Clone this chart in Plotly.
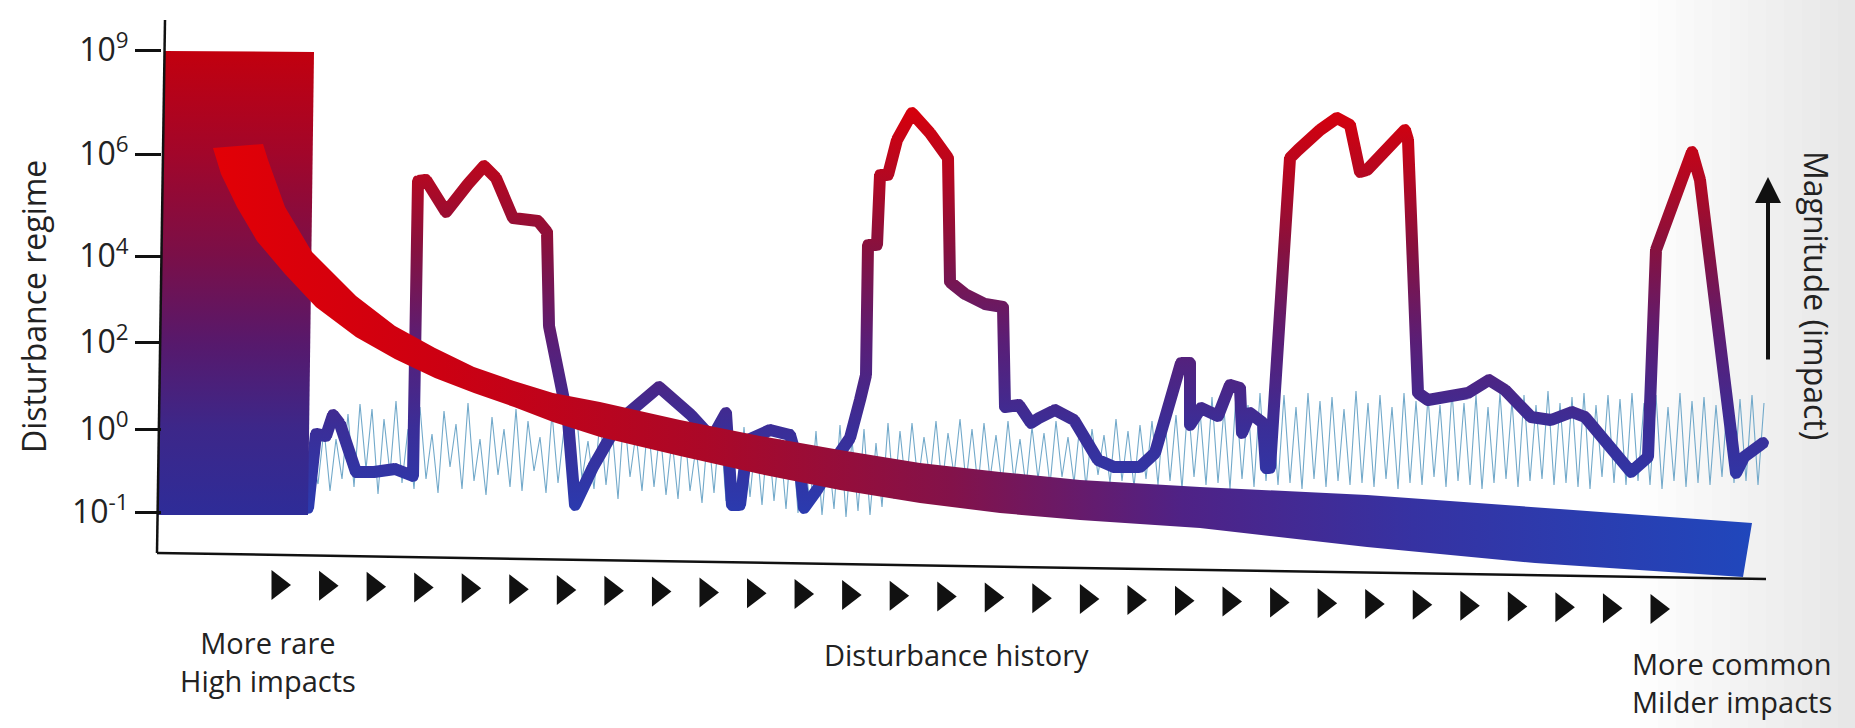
import numpy as np
import plotly.graph_objects as go

# units: t = time step along the disturbance history, level = height on the regime axis
TICK_LEVELS = [67, 150, 237, 323, 425, 529]
TICK_TEXT = ["10<sup>-1</sup>", "10<sup>0</sup>", "10<sup>2</sup>", "10<sup>4</sup>",
             "10<sup>6</sup>", "10<sup>9</sup>"]

# thick disturbance history line
HIST_T = [151, 159, 169, 176, 183, 199, 217, 238, 256, 261, 269, 289, 311, 327, 339, 356, 381, 390,
          392, 411, 418, 436, 463, 502, 534, 555, 569, 575, 583, 591, 613, 633, 643, 647, 660, 680,
          693, 703, 709, 711, 720, 723, 731, 740, 755, 773, 791, 793, 808, 828, 846, 848, 862, 874,
          882, 898, 917, 941, 957, 983, 998, 1024, 1033, 1033, 1044, 1061, 1073, 1083, 1085, 1093,
          1106, 1109, 1113, 1133, 1141, 1163, 1180, 1193, 1203, 1210, 1248, 1251, 1261, 1271, 1311,
          1332, 1348, 1374, 1394, 1415, 1428, 1474, 1491, 1499, 1535, 1543, 1579, 1587, 1606]
HIST_LEVEL = [71, 145, 143, 164, 155, 107, 107, 110, 103, 398, 399, 367, 395, 413, 401, 361, 358, 347,
              253, 159, 74, 112, 159, 192, 164, 141, 166, 74, 74, 139, 149, 144, 109, 71, 89, 122,
              141, 179, 204, 334, 334, 404, 404, 439, 466, 446, 421, 297, 285, 275, 272, 172, 174, 156,
              161, 169, 159, 119, 112, 112, 126, 216, 216, 154, 171, 163, 194, 191, 146, 166,
              156, 111, 111, 421, 429, 449, 461, 454, 407, 409, 449, 439, 186, 179, 186,
              199, 189, 162, 159, 167, 162, 107, 122, 329, 427, 399, 106, 122, 136]

# thin background fluctuation line (sampled every 6 time steps from t = 155)
NOISE_T0, NOISE_STEP = 155, 6
NOISE_LEVEL = [
    120, 95, 150, 88, 140, 100, 165, 92, 175, 110, 170, 85, 160, 105, 178, 96, 150, 90, 172, 100,
    145, 86, 168, 112, 155, 90, 176, 98, 140, 84, 162, 104, 150, 92, 170, 88, 158, 108, 142, 86,
    166, 96, 150, 82, 174, 100, 138, 90, 160, 94, 152, 80, 168, 102, 146, 88, 158, 92, 150, 84,
    140, 80, 158, 88, 132, 76, 150, 86, 160, 78, 136, 72, 152, 82, 144, 74, 148, 78, 140, 70,
    150, 66, 134, 72, 148, 64, 130, 70, 154, 62, 140, 68, 150, 64, 136, 72, 156, 80, 148, 90,
    156, 96, 142, 100, 158, 92, 146, 104, 160, 96, 150, 92, 156, 100, 144, 94, 158, 98, 140, 92,
    152, 100, 146, 94, 158, 102, 142, 96, 156, 92, 150, 104, 144, 96, 160, 98, 148, 92, 154, 100,
    158, 94, 172, 98, 164, 90, 178, 102, 168, 94, 182, 96, 170, 90, 184, 100, 174, 92, 186, 98,
    176, 94, 184, 96, 172, 90, 186, 100, 178, 92, 182, 98, 170, 94, 188, 96, 176, 92, 184, 100,
    172, 90, 186, 96, 178, 94, 182, 102, 174, 92, 188, 98, 176, 94, 184, 90, 172, 96, 186, 100,
    178, 92, 184, 98, 174, 100, 188, 94, 176, 96, 182, 92, 186, 90, 174, 102, 184, 96, 180, 94,
    186, 98, 176, 94, 184, 90, 172, 98, 186, 92, 178, 96, 182, 94, 174, 102, 188, 96, 180, 98,
    184, 94, 176]

# broad regime band (upper and lower edge)
BAND_TOP_T = [106, 111, 128, 155, 199, 238, 278, 317, 357, 396, 443, 523, 603, 683, 763, 843, 923,
              1043, 1210, 1378, 1595]
BAND_TOP_L = [435, 419, 372, 327, 283, 253, 231, 212, 198, 186, 177, 159, 143, 129, 116, 107, 99,
              92, 84, 72, 56]
BAND_BOT_T = [56, 64, 80, 100, 128, 159, 199, 238, 278, 317, 357, 396, 443, 523, 603, 683, 763,
              843, 923, 1043, 1210, 1378, 1586]
BAND_BOT_L = [431, 405, 372, 338, 305, 272, 242, 220, 201, 186, 172, 157, 142, 123, 105, 89, 76,
              66, 59, 51, 32, 16, 2]

# rare high impact block
RECT_T = [1, 8, 157, 151]
RECT_L = [64, 528, 527, 64]

N_ARROWS = 30

HIST_SCALE = [[0, '#2b3aae'], [0.2, '#3a2e98'], [0.42, '#5a1e76'], [0.65, '#86113f'],
              [0.83, '#b30822'], [1, '#d6000c']]
RECT_SCALE = [[0, '#2e2c98'], [0.19, '#3d2789'], [0.37, '#57196c'], [0.56, '#7a0f48'],
              [0.78, '#a2062a'], [1, '#c2000e']]
BAND_SCALE = [[0, '#e20006'], [0.15, '#cc0012'], [0.32, '#ab0828'], [0.48, '#83124a'],
              [0.63, '#4f2286'], [0.78, '#3632a2'], [1, '#2047bc']]

FONT = "Open Sans"
W, H = 1855, 728
L_M, R_M, T_M, B_M = 153, 85, 19, 109
X_RANGE = [-4, 1613]
Y_RANGE = [-40, 560]


def px_paper(t):
    return (t - X_RANGE[0]) / (X_RANGE[1] - X_RANGE[0])


def py_paper(level):
    return (level - Y_RANGE[0]) / (Y_RANGE[1] - Y_RANGE[0])


def stroke_outline(ts, ls, width):
    # outline of a thick polyline so it can be filled with a vertical gradient
    h = width / 2
    xs, ys = [], []
    ang = np.linspace(0, -2 * np.pi, 19)
    for i in range(len(ts) - 1):
        x0, y0, x1, y1 = ts[i], ls[i], ts[i + 1], ls[i + 1]
        d = np.hypot(x1 - x0, y1 - y0)
        if d == 0:
            continue
        nx, ny = -(y1 - y0) / d * h, (x1 - x0) / d * h
        xs += [x0 + nx, x1 + nx, x1 - nx, x0 - nx, x0 + nx, None]
        ys += [y0 + ny, y1 + ny, y1 - ny, y0 - ny, y0 + ny, None]
    for x, y in zip(ts, ls):
        xs += list(x + h * np.cos(ang)) + [None]
        ys += list(y + h * np.sin(ang)) + [None]
    return xs, ys


fig = go.Figure()

# thin fluctuations
noise_t = [NOISE_T0 + NOISE_STEP * i for i in range(len(NOISE_LEVEL))]
fig.add_trace(go.Scatter(x=noise_t, y=NOISE_LEVEL, mode='lines',
                         line=dict(color='#72a9ca', width=1.1), hoverinfo='skip'))

# thick history line with colour by magnitude
hx, hy = stroke_outline(HIST_T, HIST_LEVEL, 12)
fig.add_trace(go.Scatter(x=hx, y=hy, mode='lines', fill='toself', line=dict(width=0),
                         fillgradient=dict(type='vertical', colorscale=HIST_SCALE,
                                           start=70, stop=470),
                         hoverinfo='skip'))

# block of rare high impacts
fig.add_trace(go.Scatter(x=RECT_T + [RECT_T[0]], y=RECT_L + [RECT_L[0]], mode='lines',
                         fill='toself', line=dict(width=0),
                         fillgradient=dict(type='vertical', colorscale=RECT_SCALE,
                                           start=min(RECT_L), stop=max(RECT_L)),
                         hoverinfo='skip'))

# regime band
band_x = BAND_TOP_T + BAND_BOT_T[::-1] + [BAND_TOP_T[0]]
band_y = BAND_TOP_L + BAND_BOT_L[::-1] + [BAND_TOP_L[0]]
fig.add_trace(go.Scatter(x=band_x, y=band_y, mode='lines', fill='toself', line=dict(width=0),
                         fillgradient=dict(type='horizontal', colorscale=BAND_SCALE,
                                           start=min(BAND_BOT_T), stop=max(BAND_TOP_T)),
                         hoverinfo='skip'))

# row of arrowheads under the axis
arrow_t = np.linspace(121, 1500, N_ARROWS)
arrow_l = np.linspace(-6, -30, N_ARROWS)
fig.add_trace(go.Scatter(x=arrow_t, y=arrow_l, mode='markers', cliponaxis=False,
                         marker=dict(symbol='triangle-right', size=26, color='#111111',
                                     line=dict(width=0)),
                         hoverinfo='skip'))

# axis lines (the scanned frame is slightly tilted)
fig.add_shape(type='line', x0=8, y0=559, x1=0, y1=26, line=dict(color='#111111', width=2.5))
fig.add_shape(type='line', x0=0, y0=26, x1=1609, y1=0, line=dict(color='#111111', width=2.5))

# paper shading on the right edge
pw = W - L_M - R_M
for k in range(12):
    px0 = 1640 + 18 * k
    fig.add_shape(type='rect', xref='paper', yref='paper', layer='below',
                  x0=(px0 - L_M) / pw, x1=(W - L_M) / pw, y0=-1, y1=2,
                  fillcolor='rgba(0,0,0,0.009)', line=dict(width=0))

big = dict(family=FONT, size=32, color='#222222')
txt = dict(family=FONT, size=29, color='#222222')


def label(t, level, text, font, angle=0, xanchor='center', align='center'):
    fig.add_annotation(xref='paper', yref='paper', x=px_paper(t), y=py_paper(level),
                       text=text, textangle=angle, showarrow=False, font=font,
                       xanchor=xanchor, yanchor='middle', align=align)


label(-124, 272, 'Disturbance regime', big, angle=-90)
label(1660, 284, 'Magnitude (impact)', big, angle=90)
label(111, -82, 'More rare<br>High impacts', txt)
label(799, -75, 'Disturbance history', txt)
label(1473, -103, 'More common<br>Milder impacts', txt, xanchor='left', align='left')

fig.add_annotation(x=1611, y=402, ax=1611, ay=218, axref='x', ayref='y', text='',
                   showarrow=True, arrowhead=2, arrowsize=1.3, arrowwidth=4,
                   arrowcolor='#111111')

fig.update_layout(
    width=W, height=H,
    margin=dict(l=L_M, r=R_M, t=T_M, b=B_M),
    paper_bgcolor='white', plot_bgcolor='rgba(0,0,0,0)',
    showlegend=False,
    xaxis=dict(range=X_RANGE, visible=False, showgrid=False, zeroline=False),
    yaxis=dict(range=Y_RANGE, anchor='free', position=8 / pw,
               tickvals=TICK_LEVELS, ticktext=TICK_TEXT, ticks='outside', ticklen=26,
               tickwidth=2.5, tickcolor='#111111', showgrid=False, zeroline=False,
               showline=False, tickfont=dict(family=FONT, size=32, color='#222222')),
)

fig.write_html("out.html", config={'displayModeBar': False},
               post_script="document.body.style.margin = '0px';")
